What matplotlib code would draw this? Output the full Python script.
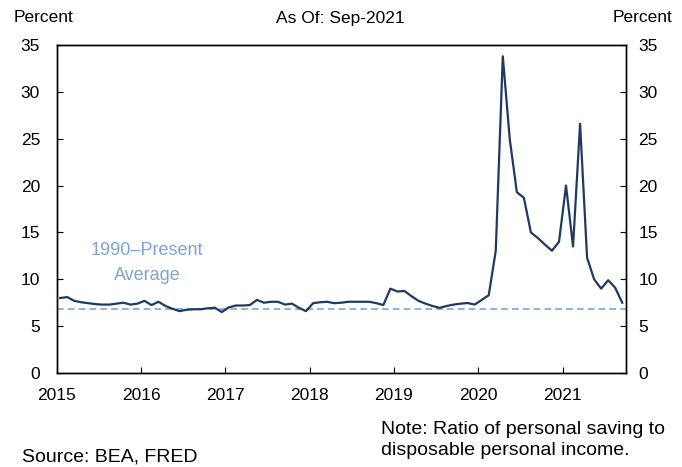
import numpy as np
import matplotlib
matplotlib.use("Agg")
import matplotlib.pyplot as plt

plt.rcParams['font.family'] = ['Liberation Sans', 'DejaVu Sans']

# personal saving rate, monthly Jan-2015 .. Sep-2021
years = ['2015', '2016', '2017', '2018', '2019', '2020', '2021']
saving = [
    8.0, 8.1, 7.7, 7.55, 7.45, 7.35, 7.3, 7.3, 7.4, 7.5, 7.3, 7.4,        # 2015
    7.7, 7.25, 7.6, 7.15, 6.85, 6.6, 6.75, 6.8, 6.8, 6.9, 6.97, 6.5,      # 2016
    7.0, 7.2, 7.2, 7.25, 7.8, 7.5, 7.6, 7.6, 7.3, 7.4, 6.95, 6.6,         # 2017
    7.45, 7.55, 7.6, 7.45, 7.5, 7.6, 7.6, 7.6, 7.6, 7.45, 7.25, 9.0,      # 2018
    8.7, 8.75, 8.2, 7.7, 7.4, 7.15, 6.95, 7.15, 7.3, 7.4, 7.47, 7.3,      # 2019
    7.8, 8.3, 13.05, 33.8, 24.9, 19.3, 18.7, 15.0, 14.4, 13.7, 13.05, 14.0,  # 2020
    20.0, 13.5, 26.6, 12.3, 10.0, 9.0, 9.9, 9.1, 7.5,                     # 2021
]
avg_1990 = 6.85
yticks = [0, 5, 10, 15, 20, 25, 30, 35]

months = np.arange(len(saving))

fig = plt.figure(figsize=(6.82, 4.67), dpi=100)
ax = fig.add_axes([0.0831, 0.2013, 0.8344, 0.7023])

ax.plot(months, saving, color='#1f3a60', lw=1.6, zorder=3)
ax.axhline(avg_1990, color='#7fa3d4', lw=1.2, ls=(0, (4, 2.5)), zorder=2)

ax.set_xlim(-0.5, len(saving) - 0.5)
ax.set_ylim(0, 35)
ax.set_xticks(np.arange(len(years)) * 12 - 0.5)
ax.set_xticklabels(years)
ax.set_yticks(yticks)
ax.tick_params(axis='both', direction='in', length=4, width=0.8, labelsize=12.5)
ax.tick_params(axis='x', pad=11)
ax.tick_params(axis='y', pad=12)

ax2 = ax.twinx()
ax2.set_ylim(0, 35)
ax2.set_yticks(yticks)
ax2.tick_params(axis='y', direction='in', length=4, width=0.8, labelsize=12.5, pad=9)

for a in (ax, ax2):
    for s in a.spines.values():
        s.set_linewidth(1.0)
        s.set_color('#000000')

fig.text(147 / 682, 1 - 263 / 467, '1990\u2013Present\nAverage', fontsize=13,
         color='#7fa3d4', ha='center', va='center', linespacing=1.6)

fig.text(14 / 682, 1 - 18 / 467, 'Percent', fontsize=12.5, va='center', ha='left')
fig.text(340 / 682, 1 - 18 / 467, 'As Of: Sep-2021', fontsize=12.5, va='center', ha='center')
fig.text(672 / 682, 1 - 18 / 467, 'Percent', fontsize=12.5, va='center', ha='right')
fig.text(22 / 682, 1 - 457 / 467, 'Source: BEA, FRED', fontsize=14, va='center', ha='left')
fig.text(381 / 682, 1 - 440 / 467, 'Note: Ratio of personal saving to\ndisposable personal income.',
         fontsize=14, va='center', ha='left', linespacing=1.25)

fig.savefig('out.png', dpi=100)
